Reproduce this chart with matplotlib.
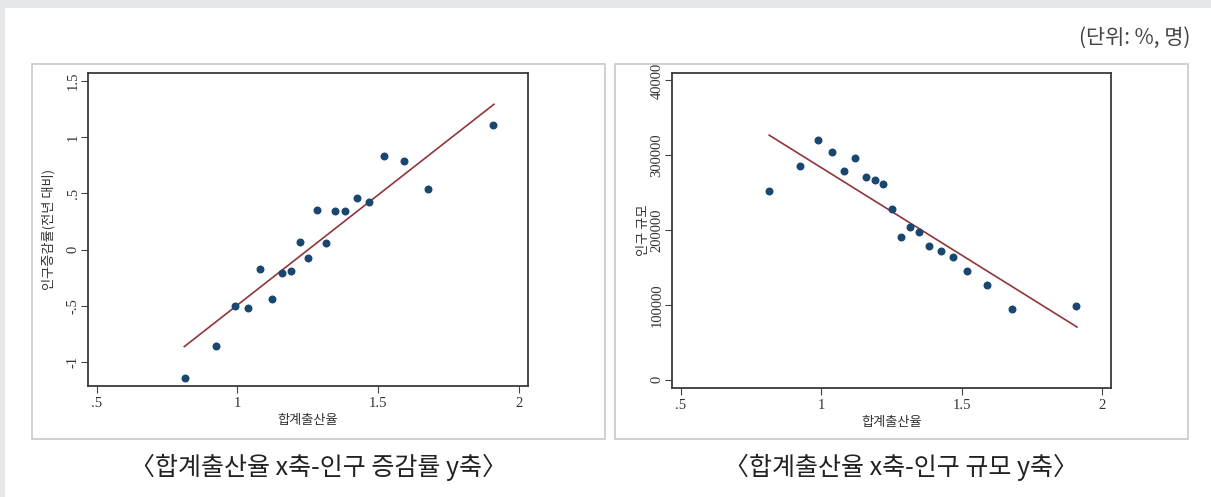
import matplotlib.pyplot as plt
from matplotlib.patches import Rectangle

plt.rcParams['font.family'] = ['Noto Sans CJK KR', 'DejaVu Sans']

# =========================
# DATA
# =========================

tfr = [0.815, 0.925, 0.990, 1.036, 1.080, 1.121, 1.159, 1.191, 1.222, 1.250,
       1.282, 1.315, 1.346, 1.381, 1.425, 1.468, 1.521, 1.592, 1.678, 1.909]
pop_growth = [-1.136, -0.858, -0.499, -0.514, -0.171, -0.437, -0.206, -0.188, 0.069, -0.070,
              0.354, 0.060, 0.348, 0.348, 0.463, 0.425, 0.834, 0.789, 0.540, 1.112]
fit_growth_x = [0.811, 1.911]
fit_growth_y = [-0.861, 1.293]

tfr2 = [0.815, 0.925, 0.990, 1.037, 1.082, 1.121, 1.159, 1.190, 1.221, 1.251,
        1.283, 1.317, 1.347, 1.383, 1.425, 1.468, 1.520, 1.590, 1.678, 1.909]
pop_size = [252800, 285400, 320600, 304100, 278700, 296500, 271100, 266700, 262200, 228300,
            190900, 204200, 198000, 178400, 172600, 164100, 145800, 126200, 94500, 98100]
fit_size_x = [0.815, 1.911]
fit_size_y = [326900, 70500]

x_ticks = [0.5, 1, 1.5, 2]
x_ticklabels = [".5", "1", "1.5", "2"]
y1_ticks = [-1, -0.5, 0, 0.5, 1, 1.5]
y1_ticklabels = ["-1", "-.5", "0", ".5", "1", "1.5"]
y2_ticks = [0, 100000, 200000, 300000, 400000]
y2_ticklabels = ["0", "100000", "200000", "300000", "40000"]

captions = ["〈합계출산율 x축-인구 증감률 y축〉", "〈합계출산율 x축-인구 규모 y축〉"]

# =========================
# FIGURE
# =========================

W, H = 1211, 497
fig = plt.figure(figsize=(W / 100, H / 100), dpi=100)
fig.patch.set_facecolor("#e6e7e9")


def px_rect(x0, y0, x1, y1):
    return [x0 / W, (H - y1) / H, (x1 - x0) / W, (y1 - y0) / H]


# white page area
fig.patches.append(Rectangle((5 / W, 0), 1, (H - 8) / H, transform=fig.transFigure,
                             facecolor="white", edgecolor="none", zorder=-2))
# panel frames
for x0, y0, x1, y1 in [(31.5, 63.5, 604.5, 438.5), (614.5, 64, 1188, 439)]:
    fig.patches.append(Rectangle((x0 / W, (H - y1) / H), (x1 - x0) / W, (y1 - y0) / H,
                                 transform=fig.transFigure, facecolor="none",
                                 edgecolor="#c8c8c8", linewidth=1.2, zorder=-1))

NAVY = "#1a476f"
MAROON = "#90353b"
SERIF = "Liberation Serif"


def style_axes(ax, yticks, yticklabels, ylim, ylabel, ypad):
    ax.set_zorder(2)
    ax.set_xlim(0.469, 2.032)
    ax.set_ylim(*ylim)
    ax.set_xticks(x_ticks)
    ax.set_xticklabels(x_ticklabels, fontfamily=SERIF, fontsize=10.5, color="#333333")
    ax.set_yticks(yticks)
    ax.set_yticklabels(yticklabels, fontfamily=SERIF, fontsize=10.5, color="#333333",
                       rotation=90, va="center")
    ax.tick_params(direction="out", length=5, width=0.8, color="#444444")
    ax.tick_params(axis="x", pad=3)
    ax.tick_params(axis="y", pad=1)
    for s in ax.spines.values():
        s.set_color("#3a3a3a")
        s.set_linewidth(1.3)
    ax.set_xlabel("합계출산율", fontsize=9.5, color="#333333", labelpad=3)
    ax.set_ylabel(ylabel, fontsize=9.5, color="#333333", labelpad=ypad)


ax1 = fig.add_axes(px_rect(88, 73, 528, 386))
ax1.plot(fit_growth_x, fit_growth_y, color=MAROON, linewidth=1.2)
ax1.scatter(tfr, pop_growth, s=33, color=NAVY, zorder=3, linewidths=0)
style_axes(ax1, y1_ticks, y1_ticklabels, (-1.211, 1.571), "인구증감률(전년 대비)", 8)

ax2 = fig.add_axes(px_rect(672, 73, 1111, 388))
ax2.plot(fit_size_x, fit_size_y, color=MAROON, linewidth=1.2)
ax2.scatter(tfr2, pop_size, s=33, color=NAVY, zorder=3, linewidths=0)
style_axes(ax2, y2_ticks, y2_ticklabels, (-11000, 410000), "인구 규모", 0.5)

fig.text(1190 / W, (H - 38) / H, "(단위: %, 명)", ha="right", va="center",
         fontsize=15, color="#444444")
fig.text(318 / W, (H - 467) / H, captions[0], ha="center", va="center",
         fontsize=18, color="#222222")
fig.text(901 / W, (H - 467) / H, captions[1], ha="center", va="center",
         fontsize=18, color="#222222")

fig.savefig("out.png", dpi=100, facecolor=fig.get_facecolor())
